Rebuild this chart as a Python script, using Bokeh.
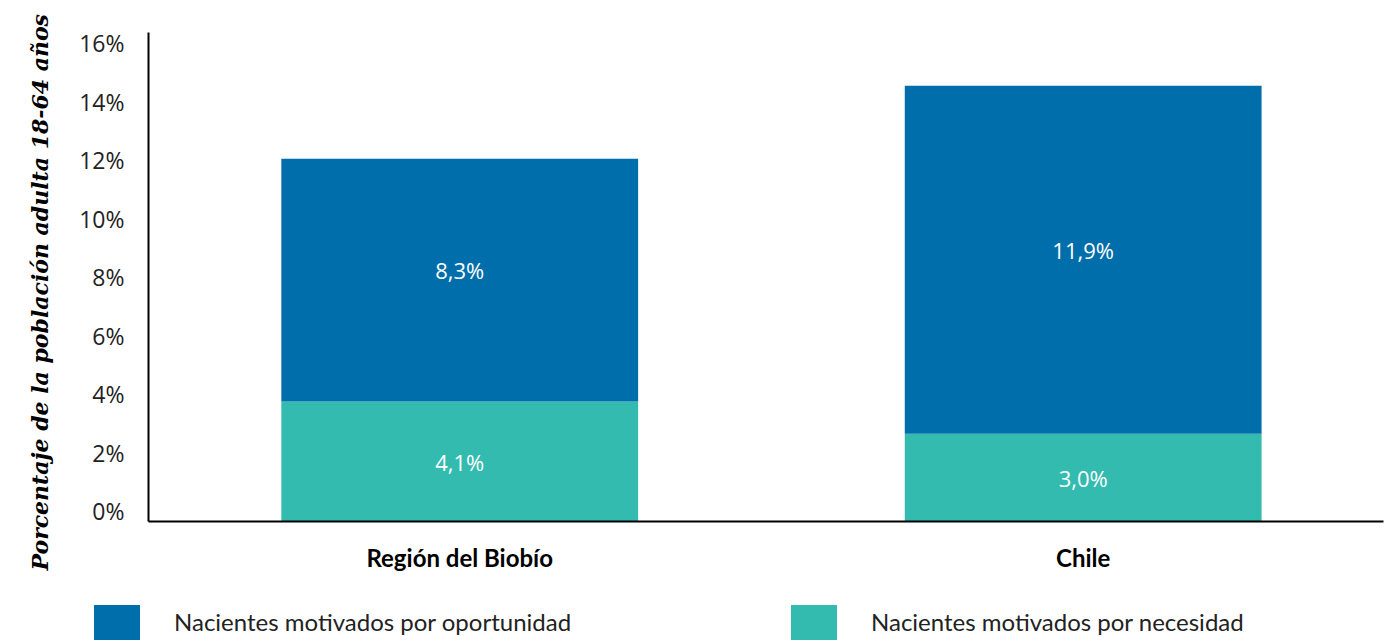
from bokeh.plotting import figure
from bokeh.layouts import column
from bokeh.models import (ColumnDataSource, Range1d, FixedTicker, PrintfTickFormatter,
                          LabelSet, Div, Title)
from bokeh.core.properties import value
from bokeh.embed import file_html
from bokeh.resources import INLINE

# ---- data ----
categories = ["Región del Biobío", "Chile"]
necesidad = [4.1, 3.0]
oportunidad = [8.3, 11.9]
y_ticks = [0, 2, 4, 6, 8, 10, 12, 14, 16]
series_names = ["Nacientes motivados por oportunidad", "Nacientes motivados por necesidad"]
y_title = "Porcentaje de la población adulta 18-64 años"

C_OPP = "#006EAA"
C_NEC = "#33BBB0"

xs = list(range(len(categories)))
src = ColumnDataSource(dict(x=xs, nec=necesidad, opp=oportunidad))

p = figure(width=1387, height=590, output_backend="svg", toolbar_location=None,
           x_range=Range1d(-0.4992, 1.4817), y_range=Range1d(0, 16.72),
           min_border_left=137, min_border_right=4, min_border_top=32, min_border_bottom=69)
p.outline_line_color = None
p.xgrid.visible = False
p.ygrid.visible = False

rs = p.vbar_stack(["nec", "opp"], x="x", width=0.5723, source=src,
                  color=[C_NEC, C_OPP], line_color=None)

# value labels
lab_nec = ColumnDataSource(dict(
    x=xs, y=[n / 2 for n in necesidad],
    t=[("%.1f%%" % n).replace(".", ",") for n in necesidad]))
lab_opp = ColumnDataSource(dict(
    x=xs, y=[n + o / 2 for n, o in zip(necesidad, oportunidad)],
    t=[("%.1f%%" % o).replace(".", ",") for o in oportunidad]))
for s, yoff in ((lab_nec, 0), (lab_opp, 10)):
    p.add_layout(LabelSet(x="x", y="y", text="t", source=s, text_color="white",
                          text_font=value("Open Sans"), text_font_size="22px",
                          text_align="center", text_baseline="middle", y_offset=yoff))

# axes
yax = p.yaxis[0]
yax.ticker = FixedTicker(ticks=y_ticks)
yax.formatter = PrintfTickFormatter(format="%d%%\n")
yax.major_tick_line_color = None
yax.minor_tick_line_color = None
yax.axis_line_color = "black"
yax.axis_line_width = 2
yax.major_label_text_font = "Open Sans"
yax.major_label_text_font_size = "23px"
yax.major_label_text_color = "#222222"
yax.major_label_text_line_height = 0.64
yax.major_label_standoff = 18

# y title as a side title, so it can be shifted along the axis
p.add_layout(Title(text=y_title, align="left", offset=-49, standoff=48,
                   text_font="DejaVu Serif", text_font_style="bold italic",
                   text_font_size="22px", text_color="black"), "left")

xax = p.xaxis[0]
xax.ticker = FixedTicker(ticks=xs)
xax.major_label_overrides = {i: c for i, c in zip(xs, categories)}
xax.major_tick_line_color = None
xax.minor_tick_line_color = None
xax.axis_line_color = "black"
xax.axis_line_width = 2
xax.major_label_text_font = "Lato"
xax.major_label_text_font_style = "bold"
xax.major_label_text_font_size = "24px"
xax.major_label_text_color = "black"
xax.major_label_standoff = 15

# legend strip below the chart
def item(left, color, label):
    return (f'<div style="position:absolute;left:{left}px;top:15px;width:46px;height:46px;'
            f'background:{color}"></div>'
            f'<div style="position:absolute;left:{left + 80}px;top:17px;line-height:30px;'
            f'white-space:nowrap">{label}</div>')

html = ('<div style="position:relative;width:1387px;height:50px;overflow:hidden;'
        'font-family:Lato;font-size:24px;color:#222222">'
        + item(94, C_OPP, series_names[0]) + item(791, C_NEC, series_names[1]) + '</div>')
legend_div = Div(text=html, width=1387, height=50, margin=0)

open("out.html", "w").write(file_html(column(p, legend_div, spacing=0), INLINE))
